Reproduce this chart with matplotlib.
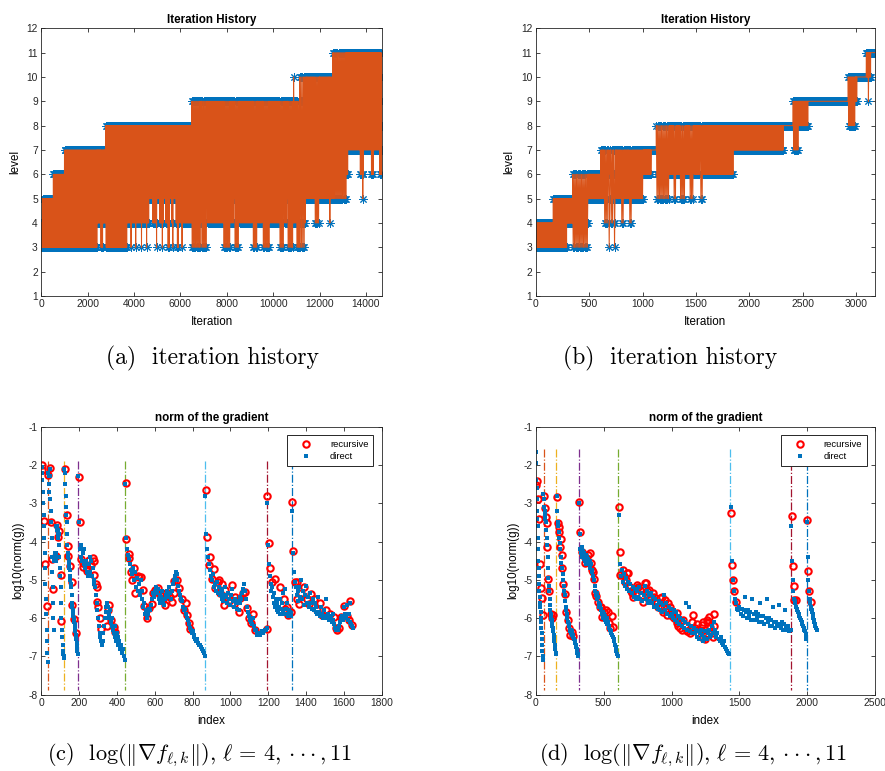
import numpy as np
import matplotlib
matplotlib.use("Agg")
import matplotlib.pyplot as plt

plt.rcParams['font.family'] = 'Liberation Sans'
plt.rcParams['mathtext.fontset'] = 'cm'
plt.rcParams['axes.unicode_minus'] = False

# MATLAB default colours
BLUE = '#0072BD'
ORANGE = '#D95319'
line_colors = ['#D95319', '#EDB120', '#7E2F8E', '#77AC30', '#4DBEEE', '#A2142F', '#0072BD']

# ---- (a) iteration history: blocks of V-cycles (start iteration, top level, lowest level)
a_start = [0, 60, 520, 1000, 2400, 2560, 2650, 2780,
           3700, 3850, 3900, 4050, 4100, 4300, 4350, 4520, 4580,
           4650, 4800, 4950, 5000, 5100, 5200, 5260, 5350, 5450, 5520,
           5600, 5650, 5700, 5800, 5850, 5950, 6000, 6050, 6100,
           6480, 6850, 6900, 7150, 7860, 8150, 8330, 8540,
           9120, 9330, 9550, 9830, 10270, 10480, 10620, 10850,
           10880, 10920, 11000, 11140, 11360, 11430, 11790, 12000,
           12420, 12460, 12580, 13150, 13240, 13740, 13840, 13870, 13900,
           14220, 14360, 14570]
a_top = [4, 5, 6, 7, 7, 7, 7, 8,
         8, 8, 8, 8, 8, 8, 8, 8, 8,
         8, 8, 8, 8, 8, 8, 8, 8, 8, 8,
         8, 8, 8, 8, 8, 8, 8, 8, 8,
         9, 9, 9, 9, 9, 9, 9, 9,
         9, 9, 9, 9, 9, 9, 9, 9,
         10, 9, 9, 10, 10, 10, 10, 10,
         10, 10, 11, 11, 11, 11, 11, 11, 11,
         11, 11, 11]
a_low = [3, 3, 3, 3, 4, 3, 4, 3,
         4, 3, 4, 3, 4, 3, 4, 3, 4,
         5, 4, 3, 5, 4, 3, 5, 4, 3, 5,
         4, 3, 5, 4, 3, 5, 4, 3, 4,
         3, 4, 3, 4, 3, 4, 3, 4,
         3, 4, 3, 4, 3, 4, 3, 4,
         4, 4, 3, 3, 4, 5, 4, 5,
         4, 5, 5, 6, 7, 6, 5, 6, 7,
         6, 7, 6]
a_end = 14680

# ---- (b) iteration history
b_start = [0, 165, 290, 345, 490,
           610, 640, 680, 700, 730, 750, 800, 830, 875, 900,
           1004, 1082, 1129, 1250, 1290, 1320, 1350, 1400, 1440, 1480,
           1540, 1570, 1850, 2320, 2410, 2460, 2550, 2925, 2990, 3007,
           3095, 3110, 3120, 3135]
b_top = [4, 5, 5, 6, 6,
         7, 7, 7, 7, 7, 7, 7, 7, 7, 7,
         7, 7, 8, 8, 8, 8, 8, 8, 8, 8,
         8, 8, 8, 8, 9, 9, 9, 10, 10, 10,
         11, 11, 11, 11]
b_low = [3, 3, 4, 3, 5,
         5, 4, 3, 4, 3, 5, 4, 5, 4, 5,
         6, 7, 5, 6, 5, 6, 5, 6, 5, 6,
         5, 6, 7, 8, 7, 8, 9, 8, 9, 10,
         10, 9, 10, 11]
b_end = 3178

# ---- (c) norm of the gradient
c_levels = [35, 122, 194, 444, 866, 1194, 1323]
c_rec_idx = [3, 6, 12, 18, 28,
             37, 47, 53, 58, 63, 77, 84, 86, 93, 102, 105,
             125, 134, 140, 143, 152, 161, 164, 175, 183,
             199, 203, 210, 218, 223, 231, 239, 244, 254, 261, 272, 276, 281, 288, 293,
             294, 302, 308, 315, 346, 355, 360, 367, 382, 390,
             447, 449, 461, 466, 475, 482, 488, 496, 509, 516, 526, 537, 542, 558, 570,
             585, 590, 602, 615, 625, 638, 646, 655, 668, 682, 691, 699, 703, 717, 726,
             744, 752, 765, 770, 779, 788,
             873, 876, 885, 890, 903, 911, 920, 933, 938, 947, 956, 964, 973, 982,
             1000, 1009, 1017, 1026, 1044, 1053, 1067, 1079, 1088, 1097, 1109, 1120, 1132, 1194,
             1196, 1203, 1208, 1221, 1238, 1261, 1282, 1291, 1297, 1304, 1318,
             1328, 1333, 1340, 1350, 1353, 1362, 1371, 1389, 1406, 1415, 1424, 1441, 1459,
             1473, 1486, 1503, 1526, 1547, 1556, 1565, 1574, 1586, 1600, 1618, 1627, 1632, 1645]
c_rec_val = [-2.0, -2.12, -3.46, -4.6, -5.68,
             -2.26, -2.08, -3.5, -4.45, -5.25, -4.37, -3.57, -3.88, -3.72, -4.87, -6.08,
             -2.11, -3.31, -4.11, -4.38, -4.63, -5.05, -5.66, -6.03, -6.38,
             -2.32, -3.5, -4.46, -4.57, -4.66, -4.59, -4.78, -4.7, -4.47, -4.61, -4.44, -4.51, -4.87, -5.11, -5.2,
             -5.59, -5.72, -6.0, -6.29, -6.2, -5.8, -5.67, -6.05, -6.24, -6.37,
             -2.46, -3.94, -4.33, -4.44, -4.79, -5.0, -4.7, -5.35, -4.89, -4.92, -4.92, -5.27, -5.68, -6.01, -5.74,
             -5.63, -5.34, -5.27, -5.22, -5.4, -5.35, -5.51, -5.66, -5.35, -5.44, -5.57, -5.35, -5.03, -5.0, -5.22,
             -5.5, -5.79, -5.6, -5.92, -6.12, -6.28,
             -2.65, -3.87, -4.61, -4.4, -4.99, -4.73, -5.22, -5.05, -5.0, -5.35, -5.12, -5.66, -5.27, -5.44,
             -5.53, -5.14, -5.62, -5.44, -5.83, -5.48, -5.35, -5.31, -5.74, -6.0, -6.14, -5.9, -6.31, -6.28,
             -2.8, -4.05, -4.68, -5.05, -4.97, -5.2, -5.5, -5.77, -5.7, -5.92, -5.85,
             -2.98, -4.25, -5.05, -5.07, -5.49, -5.63, -5.34, -5.18, -5.49, -5.63, -5.37, -5.49, -5.79,
             -5.6, -5.92, -5.79, -5.88, -5.96, -6.25, -6.31, -6.27, -5.96, -5.68, -5.95, -6.05, -5.56, -6.18]
# direct iterations, per level: first index, index step, values
c_dir_start = [2, 36, 122, 196, 445, 868, 1196, 1325]
c_dir_step = [2, 2, 2, 4, 5, 5, 4, 5]
c_dir_vals = [
    [-2.05, -2.2, -2.4, -2.7, -3.0, -3.3, -3.6, -3.9, -4.3, -4.7, -5.1, -5.5, -5.9, -6.3, -6.6, -6.9, -7.15],
    [-2.2, -2.3, -2.5, -2.7, -2.9, -2.1, -2.3, -3.2, -3.5, -3.9, -4.4, -4.8, -5.2, -5.6, -6.0, -6.3,
     -4.5, -4.4, -4.3, -4.45, -4.3, -4.5, -3.6, -3.7, -3.6, -3.8, -3.9, -3.7, -3.8, -4.1, -4.4, -4.7,
     -4.9, -5.2, -5.6, -6.0, -6.3, -6.5, -6.7, -6.85, -6.95, -7.0, -7.05],
    [-2.1, -2.2, -2.5, -2.8, -3.1, -3.3, -3.5, -3.8, -4.1, -4.3, -4.4, -4.5, -4.6, -4.7, -4.75, -4.9,
     -5.0, -5.1, -5.2, -5.4, -5.6, -5.7, -5.8, -5.9, -5.95, -6.0, -6.1, -6.15, -6.25, -6.35, -6.45,
     -6.55, -6.65, -6.75, -6.85, -6.95],
    [-2.3, -3.5, -4.2, -4.4, -4.1, -4.5, -4.3, -4.6, -4.2, -4.7, -4.5, -4.8, -4.6, -4.9, -4.6, -4.4,
     -4.8, -4.5, -4.9, -4.7, -5.0, -5.1, -5.2, -5.4, -5.6, -5.8, -6.0, -6.2, -6.4, -6.5, -6.6, -6.7,
     -6.6, -6.4, -6.2, -6.0, -5.85, -5.7, -5.6, -5.7, -5.9, -6.0, -5.8, -6.1, -6.2, -6.0, -6.3, -6.4,
     -6.2, -6.5, -6.6, -6.4, -6.7, -6.5, -6.6, -6.8, -6.7, -6.85, -6.9, -6.8, -7.0, -7.1],
    [-2.5, -3.9, -4.2, -4.35, -4.45, -4.6, -4.75, -4.85, -4.7, -5.0, -4.8, -5.2, -4.95, -5.3, -5.1,
     -5.4, -5.0, -5.3, -5.5, -5.7, -5.6, -5.9, -5.8, -6.0, -5.9, -5.75, -5.8, -5.65, -5.5, -5.35,
     -5.45, -5.3, -5.2, -5.35, -5.25, -5.5, -5.4, -5.6, -5.45, -5.3, -5.55, -5.65, -5.5, -5.4, -5.3,
     -5.45, -5.2, -5.35, -5.5, -5.3, -5.1, -5.0, -4.9, -4.8, -4.85, -5.0, -5.15, -5.3, -5.4, -5.5,
     -5.55, -5.7, -5.8, -5.75, -5.9, -6.0, -6.05, -6.15, -6.25, -6.3, -6.4, -6.35, -6.45, -6.5,
     -6.55, -6.6, -6.55, -6.65, -6.7, -6.7, -6.75, -6.8, -6.85, -6.9, -7.0],
    [-2.8, -3.8, -4.2, -4.4, -4.6, -4.75, -4.9, -5.0, -4.85, -5.2, -5.1, -5.3, -5.05, -5.35, -5.2,
     -5.4, -5.25, -5.5, -5.3, -5.55, -5.4, -5.2, -5.45, -5.6, -5.35, -5.5, -5.65, -5.4, -5.25, -5.55,
     -5.7, -5.5, -5.6, -5.75, -5.55, -5.8, -5.6, -5.45, -5.5, -5.35, -5.25, -5.1, -5.3, -5.5, -5.7,
     -5.85, -5.95, -6.05, -6.1, -6.15, -6.0, -6.2, -6.3, -6.3, -6.4, -6.45, -6.45, -6.4, -6.45, -6.4,
     -6.35, -6.4, -6.35, -6.3, -6.3, -6.25],
    [-3.0, -4.1, -4.6, -4.9, -5.1, -5.3, -5.2, -5.45, -5.6, -5.35, -5.7, -5.5, -5.8, -5.6, -5.85,
     -5.7, -5.5, -5.9, -5.75, -5.6, -5.8, -5.35, -5.9, -5.25, -5.75, -5.9, -5.6, -5.95, -5.8, -5.9,
     -5.85, -5.95],
    [-3.2, -4.3, -4.8, -5.05, -5.2, -5.4, -5.3, -5.55, -5.2, -5.45, -5.0, -5.5, -5.3, -5.65, -5.4,
     -5.15, -5.6, -5.45, -5.7, -5.35, -5.6, -5.75, -5.5, -5.8, -5.6, -5.85, -5.7, -5.9, -5.45, -5.85,
     -5.95, -5.7, -5.9, -6.0, -5.8, -5.95, -5.5, -6.0, -5.9, -6.05, -5.95, -6.0, -6.1, -5.9, -6.05,
     -6.15, -6.25, -6.3, -6.25, -6.3, -6.2, -6.1, -6.0, -5.95, -6.05, -5.7, -5.9, -6.0, -5.65, -6.05,
     -5.9, -5.6, -6.1, -6.15, -6.2, -6.25],
]

# ---- (d) norm of the gradient
d_levels = [58, 152, 316, 608, 1433, 1880, 1998]
d_rec_idx = [2, 8, 14, 24, 32, 39, 46, 53,
             59, 67, 75, 81, 86, 93, 100, 110, 118, 125,
             158, 162, 171, 174, 176, 184, 191, 195, 204, 216, 225, 240, 242, 253, 265, 277,
             318, 325, 338, 350, 356, 366, 373, 385, 398, 407, 412, 424, 426, 436, 444, 461,
             470, 481, 486, 502, 521, 533, 540, 550, 559, 572,
             613, 619, 624, 640, 658, 675, 682, 694, 707, 718, 743, 755, 768, 792, 804, 812,
             837, 842, 861, 891, 915, 928, 940, 952, 969, 989, 1013, 1038, 1043, 1062, 1075,
             1087, 1111, 1136, 1161, 1185, 1209, 1222, 1229, 1234, 1247, 1259, 1278, 1283,
             1295, 1303, 1315,
             650, 665, 700, 730, 780, 820, 850, 870, 900, 960, 975, 1000, 1020, 1050, 1100,
             1120, 1150, 1175, 1195, 1250, 1270, 1310,
             1435, 1442, 1450, 1462, 1475,
             1888, 1893, 1899, 1903, 1914,
             2001, 2007, 2013, 2025]
d_rec_val = [-2.52, -2.42, -2.9, -3.41, -4.6, -5.22, -5.48, -5.92,
             -2.8, -3.13, -3.35, -3.51, -4.13, -4.99, -5.29, -5.88, -6.0, -5.93,
             -2.84, -3.52, -3.63, -3.76, -4.15, -3.94, -4.35, -4.69, -5.12, -5.36, -5.83, -6.05, -6.27, -6.44,
             -6.36, -6.46,
             -2.97, -3.75, -4.27, -4.33, -4.39, -4.55, -4.44, -4.35, -4.31, -4.55, -4.74, -4.8, -4.97, -5.35,
             -5.42, -5.59, -5.72, -5.7, -5.98, -5.85, -5.8, -5.85, -6.12, -6.25, -5.95, -6.22,
             -3.11, -4.28, -4.87, -4.75, -5.07, -4.83, -4.83, -5.18, -5.35, -5.46, -5.14, -5.18, -5.27, -5.57,
             -5.09, -5.09, -5.27, -5.44, -5.34, -5.6, -5.48, -5.44, -5.83, -5.53, -5.92, -5.7, -5.87, -5.87,
             -6.14, -6.27, -6.3, -6.05, -6.33, -6.4, -5.93, -6.15, -6.31, -6.18, -6.09, -6.53, -6.55, -6.05,
             -5.96, -6.22, -6.4, -6.5, -5.88,
             -4.9, -5.0, -5.3, -5.25, -5.4, -5.3, -5.5, -5.45, -5.7, -5.75, -5.6, -5.95, -6.0, -6.2, -6.2,
             -6.35, -6.1, -6.25, -6.4, -6.3, -6.1, -6.2,
             -3.26, -4.62, -5.0, -5.29, -5.58,
             -3.33, -4.65, -5.17, -5.54, -5.54,
             -3.44, -4.76, -5.3, -5.59]
d_dir_start = [0, 57, 154, 318, 610, 1436, 1882, 2000]
d_dir_step = [2, 3, 4, 5, 8, 8, 5, 4]
d_dir_vals = [
    [-1.65, -1.95, -2.4, -2.6, -2.9, -3.2, -3.4, -3.6, -3.9, -4.2, -4.5, -4.7, -4.9, -5.1, -5.3,
     -5.45, -5.6, -5.7, -5.85, -6.0, -6.1, -6.25, -6.4, -6.55, -6.7, -6.85, -7.0, -7.1],
    [-2.75, -2.9, -3.1, -3.2, -3.3, -3.4, -3.5, -3.7, -3.9, -4.1, -4.4, -4.7, -4.95, -5.15, -5.3,
     -5.5, -5.65, -5.8, -5.9, -6.0, -6.05, -6.1, -6.2, -6.25, -6.35, -6.45, -6.55, -6.6, -6.7, -6.8,
     -6.9, -6.95],
    [-2.8, -3.2, -3.5, -3.6, -3.75, -3.9, -4.05, -4.2, -4.4, -4.55, -4.7, -4.85, -5.0, -5.15, -5.3,
     -5.4, -5.55, -5.7, -5.8, -5.9, -6.0, -6.1, -6.15, -6.2, -6.3, -6.35, -6.3, -6.4, -6.35, -6.45,
     -6.5, -6.45, -6.55, -6.6, -6.65, -6.7, -6.75, -6.8, -6.9, -6.95, -7.0],
    [-3.0, -3.8, -4.2, -4.3, -4.15, -4.4, -4.25, -4.45, -4.3, -4.5, -4.35, -4.6, -4.4, -4.55, -4.45,
     -4.6, -4.5, -4.7, -4.6, -4.8, -4.75, -4.9, -5.0, -5.15, -5.3, -5.4, -5.35, -5.5, -5.45, -5.6,
     -5.7, -5.65, -5.8, -5.75, -5.9, -5.85, -6.0, -5.9, -6.05, -5.95, -6.1, -6.0, -6.15, -6.1, -6.2,
     -6.25, -6.3, -6.35, -6.4, -6.45, -6.5, -6.55, -6.6, -6.7, -6.75, -6.85, -6.95, -7.0],
    [-3.3, -4.6, -4.9, -4.75, -5.05, -4.85, -5.15, -4.95, -5.25, -5.05, -5.3, -5.1, -5.35, -5.2,
     -5.45, -5.25, -5.5, -5.3, -5.45, -5.2, -5.5, -5.35, -5.55, -5.4, -5.15, -5.5, -5.3, -5.6, -5.4,
     -5.55, -5.35, -5.6, -5.45, -5.7, -5.5, -5.65, -5.75, -5.55, -5.8, -5.6, -5.85, -5.65, -5.4,
     -5.8, -5.6, -5.9, -5.7, -5.95, -5.75, -5.9, -6.0, -5.8, -6.05, -5.85, -6.1, -5.95, -6.15, -6.0,
     -6.2, -6.05, -6.25, -6.1, -5.6, -6.3, -6.15, -5.7, -6.35, -6.2, -6.4, -6.25, -6.4, -6.3, -6.5,
     -6.35, -6.55, -6.4, -6.3, -6.45, -6.6, -6.5, -6.35, -6.55, -6.4, -6.3, -6.5, -6.45, -6.2, -6.4,
     -6.1, -6.3, -6.5, -6.4, -6.55, -6.6, -6.5, -6.65, -6.7, -6.6, -6.75, -6.8, -6.85, -6.9, -6.95],
    [-3.1, -4.5, -5.0, -5.3, -5.5, -5.6, -5.75, -5.8, -5.7, -5.9, -5.75, -5.95, -5.8, -5.45, -5.85,
     -6.0, -5.8, -5.95, -5.85, -6.05, -5.5, -5.9, -6.05, -5.85, -6.0, -5.9, -6.1, -5.6, -5.95, -6.1,
     -5.95, -6.15, -6.0, -5.5, -6.1, -6.0, -6.2, -6.05, -6.2, -5.7, -6.1, -6.25, -6.1, -6.2, -5.65,
     -6.15, -6.25, -6.1, -6.3, -6.15, -5.8, -6.25, -6.3, -6.2, -6.35, -6.3],
    [-3.6, -4.5, -5.0, -5.3, -5.5, -5.55, -5.6, -5.7, -5.75, -5.8, -5.85, -5.9, -5.95, -6.0, -6.05,
     -6.1, -6.15, -6.2, -6.25, -6.3, -6.35, -6.45, -6.55],
    [-3.5, -4.4, -5.0, -5.3, -5.5, -5.6, -5.7, -5.75, -5.8, -5.85, -5.9, -6.0, -6.05, -6.1, -6.15,
     -6.2, -6.25, -6.3],
]

ASTERISK = (8, 2, 0)


def level_path(starts, tops, lows, end, dx):
    # each block repeats cycles top -> low -> top, one level per point
    xs, ys = [], []
    for i in range(len(starts)):
        stop = starts[i + 1] if i + 1 < len(starts) else end
        hi, lo = tops[i], lows[i]
        cycle = list(range(hi, lo, -1)) + list(range(lo, hi)) if hi > lo else [hi]
        for k, x in enumerate(range(starts[i], stop, dx)):
            xs.append(x)
            ys.append(cycle[k % len(cycle)])
    return xs, ys


def style(ax):
    ax.tick_params(direction='in', top=True, right=True, length=3, width=0.6,
                   labelsize=7.4, colors='#262626', pad=2.5)
    for s in ax.spines.values():
        s.set_linewidth(0.6)
        s.set_color('#262626')


def history(ax, starts, tops, lows, end, dx, xticks):
    x, y = level_path(starts, tops, lows, end, dx)
    ax.plot(x, y, ls='none', marker=ASTERISK, color=BLUE, ms=6, mew=0.7)
    ax.plot(x, y, '-', color=ORANGE, lw=0.75)
    ax.set_xlim(0, end)
    ax.set_ylim(1, 12)
    ax.set_xticks(xticks)
    ax.set_yticks(range(1, 13))
    ax.set_title('Iteration History', fontsize=8.4, fontweight='bold', pad=4)
    ax.set_xlabel('Iteration', fontsize=8.4, labelpad=5)
    ax.set_ylabel('level', fontsize=8.4, labelpad=4)
    style(ax)


def gradient(ax, levels, top, rec_idx, rec_val, dstart, dstep, dvals, xmax, xticks):
    for x, c in zip(levels, line_colors):
        ax.plot([x, x], [top, -7.88], '-.', color=c, lw=0.9)
    h1, = ax.plot(rec_idx, rec_val, 'o', mfc='none', mec='red', ms=4.6, mew=1.5,
                  ls='none', label='recursive')
    dx, dy = [], []
    for s, st, v in zip(dstart, dstep, dvals):
        dx.extend(range(s, s + st * len(v), st))
        dy.extend(v)
    h2, = ax.plot(dx, dy, 's', color=BLUE, ms=2.3, mew=0, ls='none', label='direct')
    ax.set_xlim(0, xmax)
    ax.set_ylim(-8, -1)
    ax.set_xticks(xticks)
    ax.set_yticks(range(-8, 0))
    ax.set_title('norm of the gradient', fontsize=8.4, fontweight='bold', pad=4)
    ax.set_xlabel('index', fontsize=8.4, labelpad=5)
    ax.set_ylabel('log10(norm(g))', fontsize=8.4, labelpad=3)
    leg = ax.legend(handles=[h1, h2], loc='upper right', fontsize=6.8, fancybox=False,
                    edgecolor='#262626', borderaxespad=0.9, handlelength=3.0,
                    handletextpad=1.0, borderpad=0.5, labelspacing=0.35, framealpha=1)
    leg.get_frame().set_linewidth(0.7)
    style(ax)


fig = plt.figure(figsize=(8.85, 7.71), dpi=100)
ax_a = fig.add_axes([0.0467, 0.6161, 0.3846, 0.3472])
ax_b = fig.add_axes([0.6053, 0.6161, 0.3837, 0.3472])
ax_c = fig.add_axes([0.0467, 0.0990, 0.3846, 0.3476])
ax_d = fig.add_axes([0.6053, 0.0990, 0.3837, 0.3476])

history(ax_a, a_start, a_top, a_low, a_end, 4, range(0, 14001, 2000))
history(ax_b, b_start, b_top, b_low, b_end, 2, range(0, 3001, 500))
gradient(ax_c, c_levels, -1.9, c_rec_idx, c_rec_val, c_dir_start, c_dir_step, c_dir_vals,
         1800, range(0, 1801, 200))
gradient(ax_d, d_levels, -1.58, d_rec_idx, d_rec_val, d_dir_start, d_dir_step, d_dir_vals,
         2500, range(0, 2501, 500))

cap = dict(ha='center', va='center', fontsize=17, family='cmr10')
grad_cap = r'$\log(\Vert\nabla f_{\ell,k}\Vert),\,\ell\,=\,4,\cdot\!\cdot\!\cdot,11$'
fig.text(212 / 885, 1 - 358 / 771, '(a)  iteration history', **cap)
fig.text(670 / 885, 1 - 358 / 771, '(b)  iteration history', **cap)
fig.text(200 / 885, 1 - 755 / 771, '(c)  ' + grad_cap, ha='center', va='center',
         fontsize=16, family='cmr10')
fig.text(693 / 885, 1 - 755 / 771, '(d)  ' + grad_cap, ha='center', va='center',
         fontsize=16, family='cmr10')

fig.savefig('out.png', dpi=100)
